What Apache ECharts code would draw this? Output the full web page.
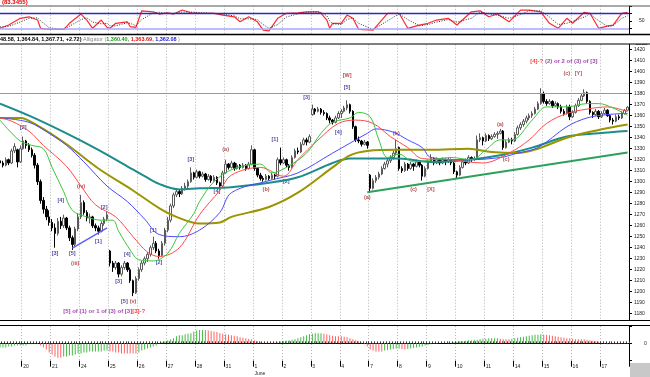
<!DOCTYPE html>
<html>
<head>
<meta charset="utf-8">
<title>Alligator</title>
<script src="https://cdn.jsdelivr.net/npm/echarts@6.0.0/dist/echarts.min.js"></script>
<style>
  html, body { margin: 0; padding: 0; background: #fff; }
  #main { width: 650px; height: 377px; }
</style>
</head>
<body>
<div id="main"></div>
<script>
// trading days on the axis, the first one is cut off at the left edge
var days = ['19', '20', '21', '24', '25', '26', '27', '28', '31', '1', '2', '3', '4', '7', '8', '9', '10', '11', '14', '15', '16', '17'];
var barsPerDay = [8, 10, 10, 10, 10, 10, 10, 10, 10, 10, 10, 10, 10, 10, 10, 10, 10, 10, 10, 10, 10, 10];

// bars: [open, high, low, close]
var ohlc = [
    // 19
    [1319,1321,1314,1317],[1317,1319,1313,1315],[1315,1322,1314,1320],[1320,1321,1315,1317],
    [1317,1330,1316,1328],[1328,1335,1326,1332],[1329,1330,1313,1318],[1318,1333,1317,1330],
    // 20
    [1330,1341,1329,1337],[1337,1338,1330,1333],[1333,1335,1327,1329],[1329,1331,1322,1324],[1324,1326,1312,1315],
    [1315,1317,1297,1300],[1300,1302,1280,1283],[1283,1286,1271,1275],[1275,1278,1265,1268],[1268,1274,1260,1263],
    // 21
    [1263,1266,1255,1258],[1258,1262,1240,1253],[1253,1267,1251,1264],[1264,1268,1257,1260],[1260,1270,1258,1267],
    [1267,1268,1256,1258],[1258,1260,1246,1249],[1249,1251,1238,1243],[1243,1259,1241,1257],[1257,1271,1255,1268],
    // 24
    [1268,1288,1266,1281],[1281,1283,1270,1272],[1272,1274,1264,1267],[1267,1271,1262,1268],[1268,1269,1258,1260],
    [1260,1262,1255,1258],[1258,1260,1252,1255],[1255,1264,1254,1262],[1262,1268,1260,1266],[1266,1273,1264,1270],
    // 25
    [1237,1238,1223,1226],[1226,1228,1218,1222],[1222,1228,1220,1226],[1226,1227,1213,1216],[1216,1224,1214,1222],
    [1222,1228,1220,1226],[1226,1227,1218,1220],[1220,1222,1208,1210],[1210,1211,1196,1199],[1199,1214,1198,1212],
    // 26
    [1212,1222,1210,1220],[1220,1228,1218,1226],[1226,1232,1224,1230],[1230,1236,1227,1234],[1234,1242,1232,1240],
    [1240,1250,1238,1244],[1244,1246,1235,1237],[1237,1239,1230,1233],[1233,1246,1232,1244],[1244,1258,1242,1256],
    // 27
    [1256,1268,1254,1265],[1265,1280,1263,1278],[1278,1290,1276,1288],[1288,1294,1286,1291],[1291,1293,1286,1289],
    [1289,1296,1288,1294],[1294,1299,1292,1296],[1296,1302,1294,1300],[1300,1313,1299,1308],[1308,1309,1302,1304],
    // 28
    [1304,1311,1303,1309],[1309,1310,1303,1305],[1305,1309,1304,1307],[1307,1308,1300,1302],[1302,1307,1301,1305],
    [1305,1306,1299,1301],[1301,1306,1300,1304],[1304,1305,1297,1299],[1299,1300,1294,1296],[1296,1310,1295,1308],
    // 31
    [1308,1320,1307,1316],[1316,1317,1311,1313],[1313,1319,1312,1317],[1317,1318,1310,1312],[1312,1317,1311,1315],
    [1315,1316,1311,1313],[1313,1317,1312,1315],[1315,1316,1310,1312],[1312,1318,1311,1316],[1316,1333,1315,1329],
    // 1 June
    [1329,1330,1310,1312],[1312,1313,1304,1306],[1306,1308,1301,1303],[1303,1305,1300,1302],[1302,1307,1301,1305],
    [1305,1306,1301,1303],[1303,1308,1302,1306],[1306,1307,1302,1305],[1305,1322,1304,1320],[1320,1331,1315,1317],
    // 2
    [1317,1322,1316,1320],[1320,1321,1313,1315],[1315,1316,1310,1313],[1313,1324,1312,1322],[1322,1330,1321,1328],
    [1328,1331,1325,1327],[1327,1336,1326,1334],[1334,1340,1333,1338],[1338,1340,1333,1336],[1336,1343,1335,1341],
    // 3
    [1361,1370,1360,1366],[1366,1367,1361,1364],[1364,1368,1363,1366],[1366,1367,1361,1363],[1363,1365,1360,1362],
    [1362,1363,1356,1358],[1358,1360,1353,1356],[1356,1357,1352,1354],[1354,1360,1353,1358],[1358,1364,1357,1362],
    // 4
    [1362,1366,1358,1364],[1364,1369,1363,1367],[1367,1374,1365,1370],[1370,1371,1362,1364],[1364,1365,1348,1350],
    [1350,1351,1336,1338],[1338,1341,1335,1337],[1337,1338,1332,1334],[1334,1338,1333,1336],[1336,1337,1330,1333],
    // 7
    [1306,1307,1291,1294],[1294,1303,1293,1301],[1301,1306,1299,1304],[1304,1309,1302,1307],[1307,1314,1306,1312],
    [1312,1318,1311,1316],[1316,1321,1313,1319],[1319,1324,1317,1322],[1322,1328,1320,1326],[1326,1338,1324,1330],
    // 8
    [1331,1332,1310,1312],[1312,1314,1308,1310],[1310,1318,1309,1316],[1316,1317,1310,1312],[1312,1318,1311,1316],
    [1316,1317,1310,1314],[1314,1320,1313,1318],[1318,1319,1313,1315],[1315,1316,1301,1305],[1305,1314,1304,1312],
    // 9
    [1312,1320,1311,1318],[1318,1325,1317,1321],[1321,1322,1315,1317],[1317,1322,1316,1320],[1320,1321,1315,1317],
    [1317,1322,1316,1320],[1320,1321,1315,1318],[1318,1322,1317,1320],[1320,1321,1315,1317],[1317,1318,1307,1309],
    // 10
    [1309,1310,1303,1306],[1306,1315,1305,1313],[1313,1320,1312,1318],[1318,1321,1315,1317],[1317,1324,1316,1322],
    [1322,1323,1318,1320],[1320,1323,1319,1321],[1321,1342,1320,1338],[1338,1344,1336,1340],[1340,1341,1333,1337],
    // 11
    [1337,1344,1336,1342],[1342,1343,1337,1339],[1339,1343,1338,1341],[1341,1345,1340,1343],[1343,1346,1339,1344],
    [1344,1348,1343,1346],[1346,1347,1329,1331],[1331,1338,1330,1336],[1336,1340,1335,1338],[1338,1340,1334,1337],
    // 14
    [1337,1345,1336,1343],[1343,1351,1342,1349],[1349,1354,1347,1352],[1352,1357,1350,1355],[1355,1360,1353,1358],
    [1358,1362,1356,1360],[1360,1364,1358,1362],[1362,1368,1361,1366],[1366,1373,1365,1371],[1371,1385,1370,1380],
    // 15
    [1380,1382,1371,1373],[1373,1375,1369,1371],[1371,1375,1370,1373],[1373,1374,1367,1369],[1369,1373,1368,1371],
    [1371,1372,1366,1368],[1368,1370,1362,1364],[1364,1366,1360,1362],[1362,1370,1361,1368],[1368,1370,1356,1359],
    // 16
    [1359,1365,1358,1363],[1363,1371,1362,1369],[1369,1376,1368,1374],[1374,1380,1373,1378],[1378,1384,1377,1381],
    [1381,1382,1371,1373],[1373,1374,1361,1363],[1363,1364,1358,1361],[1361,1366,1360,1364],[1364,1365,1357,1359],
    // 17
    [1359,1364,1358,1362],[1362,1367,1361,1365],[1365,1366,1359,1360],[1360,1361,1354,1356],[1356,1358,1352,1355],
    [1355,1361,1354,1359],[1359,1361,1356,1358],[1358,1364,1357,1362],[1362,1366,1361,1364.99],[1364.99,1368.58,1364.84,1367.71]
];

var lipsLine = [[0,1356],[3,1347],[7,1337],[11,1333],[15,1330],[18,1313],[22,1291],[25,1274],[30,1268],[35,1265],[39,1265],[41,1255],[45,1238],[48,1229],[53,1228],[58,1235],[62,1253],[67,1271],[69,1282],[74,1300],[81,1312],[90,1316],[94,1308],[99,1313],[106,1326],[111,1344],[115,1354],[121,1358],[124,1363],[128,1359],[131,1338],[134,1322],[138,1325],[143,1318],[156,1322],[163,1320],[168,1329],[173,1338],[177,1338],[184,1356],[189,1368],[196,1368],[203,1371],[207,1371],[212,1367],[217,1360.4]];
var teethLine = [[0,1358],[4,1355],[10,1346],[15,1333],[23,1314],[28,1296],[33,1279],[40,1268],[46,1250],[51,1236],[55,1232],[62,1240],[69,1270],[76,1292],[80,1306],[90,1313],[98,1305],[103,1320],[110,1338],[117,1353],[123,1356],[129,1353],[135,1341],[141,1331],[146,1321],[156,1320],[167,1317],[176,1326],[183,1338],[189,1353],[196,1362],[203,1366],[210,1368],[217,1363.7]];
var jawLine = [[0,1358],[10,1354],[17,1344],[23,1333],[29,1318],[37,1296],[44,1282],[50,1266],[55,1252],[62,1250],[69,1256],[76,1272],[80,1290],[93,1301],[103,1308],[115,1326],[121,1335],[127,1344],[130,1348],[136,1345],[141,1338],[146,1331],[149,1322],[162,1320],[173,1322],[179,1326],[186,1331],[196,1350],[203,1358],[210,1361],[217,1362.1]];
var oliveLine = [[0,1358],[7,1358],[13,1351],[23,1334],[34,1312],[46,1292],[55,1276],[61,1268],[69,1262],[76,1263],[80,1268],[93,1277],[103,1290],[115,1313],[121,1324],[127,1328],[138,1329],[149,1329],[162,1330],[170,1327],[179,1326],[186,1330],[196,1340],[207,1347],[217,1352]];
var tealLine = [[0,1371],[11,1359],[23,1344],[34,1329],[44,1314],[50,1305],[55,1298],[62,1293],[69,1294],[80,1295],[93,1299],[103,1304],[115,1317],[121,1321],[127,1321],[138,1321],[149,1318],[162,1320],[173,1324],[184,1331],[196,1341],[207,1344],[217,1346]];

var resistance = 1380;
var blueTrend = [[25, 1239.6], [37, 1258]];
var greenTrend = [[127, 1290.5], [217, 1326.5]];

// stochastic %K and %D as [bar, value]
var stochK = [[0,20],[3,33],[7,60],[10,66],[13,53],[14,20],[17,16],[22,16],[24,40],[28,77],[30,53],[32,20],[35,53],[37,24],[38,20],[40,40],[44,46],[45,27],[47,24],[49,90],[53,86],[55,77],[58,82],[60,77],[63,93],[66,82],[69,80],[74,80],[77,73],[81,66],[83,46],[86,66],[89,46],[91,13],[93,10],[96,60],[99,80],[103,82],[106,86],[110,86],[111,80],[113,53],[114,20],[115,40],[118,40],[120,73],[122,60],[124,16],[129,13],[134,80],[138,80],[141,20],[145,33],[148,40],[151,53],[155,60],[158,33],[163,86],[166,90],[169,66],[172,77],[176,46],[180,93],[183,93],[187,86],[190,40],[193,20],[196,60],[198,40],[202,84],[204,80],[207,20],[210,29],[212,33],[215,80],[217,83.35]];
var stochD = [[0,25],[3,28],[7,45],[10,60],[13,62],[14,50],[17,22],[22,16],[24,28],[28,55],[30,62],[32,45],[35,38],[37,40],[38,30],[40,30],[44,42],[45,40],[47,30],[49,55],[53,82],[55,84],[58,80],[60,80],[63,85],[66,85],[69,83],[74,80],[77,76],[81,70],[83,58],[86,58],[89,55],[91,35],[93,20],[96,35],[99,65],[103,78],[106,84],[110,86],[111,84],[113,70],[114,50],[115,38],[118,35],[120,55],[122,62],[124,40],[129,15],[134,50],[138,78],[141,55],[145,30],[148,35],[151,45],[155,55],[158,45],[163,60],[166,85],[169,78],[172,72],[176,60],[180,75],[183,90],[187,90],[190,65],[193,35],[196,40],[198,48],[202,65],[204,78],[207,50],[210,28],[212,30],[215,60],[217,70]];
var stochLevels = [80, 20];

// oscillator histogram, one value per bar
var aoValues = [
    -4,-4,-4,-3,-3,-2,-2,-2,
    -2,-2,-1,-1,-1,-1,-2,-4,-6,-9,
    -11,-13,-14,-14,-13,-13,-12,-12,-11,-10,
    -10,-9,-9,-8,-8,-8,-8,-8,-7,-7,
    -8,-8,-9,-9,-10,-10,-10,-10,-10,-10,
    -9,-7,-6,-5,-4,-3,-2,-0.5,1,2,
    3,4,5,7,8,8,9,9.5,10,11.5,
    12.5,13,13,13,12.5,12,11.5,11,10,9.5,
    9,8.5,8,7.5,7,6,5.5,5,4.5,4,
    3,2,1,0.5,0.5,0.5,0.5,0.5,1,1.5,
    2,2.5,3,3.5,4,5,6,7,8,9,
    9.5,10,10,10,9.5,9,8,7.5,7,7,
    7,6.5,6,5,4,3,2,0.5,-1,-3,
    -6,-7,-8,-8,-8,-7,-6.5,-6,-5.5,-5,
    -5,-5.5,-6,-5.5,-5,-4.5,-4,-3.5,-3,-2,
    -1.5,-1,-0.5,-0.5,0,0,0,0.5,0.5,1,
    1.5,2,2,2.5,3,3,3.5,3.5,4,4.5,
    4.5,5,5,5,5,4.5,4,4,4,4.5,
    5,5.5,6,6.5,7,7.5,8,8.5,8.5,9,
    8.5,8.5,8,7.5,7,6.5,6,5.5,5,5,
    4.5,4,4,4,4,3.5,3,2.5,2,1.5,
    0.5,-0.5,-1,-1,-1,-1,-1,-0.5,-0.5,-0.5
];

// wave labels [bar, price, text]
var waveNavy = [[8,1349,'[2]'],[19,1235,'[3]'],[21,1283,'[4]'],[25,1235,'[5]'],[34,1246,'[1]'],[36,1277,'[2]'],[41,1209,'[3]'],[44,1234,'[4]'],[43,1191,'[5]'],[53,1256,'[1]'],[55,1227,'[2]'],[66,1320,'[3]'],[75,1291,'[4]'],[95,1338,'[1]'],[99,1300,'[2]'],[106,1377,'[3]'],[117,1345,'[4]'],[120,1386,'[5]']];
var waveRed = [[26,1226,'(iii)'],[28,1296,'(iv)'],[46,1191,'(v)'],[78,1329,'(a)'],[92,1293,'(b)'],[120,1397,'[W]'],[127,1286,'(a)'],[137,1344,'(b)'],[143,1293,'(c)'],[149,1293,'[X]'],[173,1352,'(a)'],[175,1320,'(c)'],[196,1398,'(c)'],[200,1398,'[Y]']];
var notes = [
    [36, 1182, [['p', '[5] of (1) or 1 of (3) of [3]'], ['r', '[3]-?']]],
    [195, 1409, [['r', '[4]-? '], ['p', '(2) or 2 of (3) of [3]']]]
];

var cats = [];
days.forEach(function (d, di) {
    for (var k = 0; k < barsPerDay[di]; k++) {
        cats.push(d + '|' + k);
    }
});
function dayStart(i) {
    return i > 0 && cats[i].split('|')[1] === '0';
}
var FONT = 'Liberation Sans';

var candleData = ohlc.map(function (r) {
    return [r[0], r[3], r[2], r[1]];
});

var lastUp = true;
var aoData = aoValues.map(function (v, i) {
    if (i > 0 && v !== aoValues[i - 1]) lastUp = v > aoValues[i - 1];
    return {value: v, itemStyle: {color: lastUp ? '#44b844' : '#ff6060'}};
});

function maSeries(data, color, width) {
    return {
        type: 'line', xAxisIndex: 1, yAxisIndex: 1, data: data,
        smooth: 0.35, showSymbol: false, silent: true,
        lineStyle: {color: color, width: width}
    };
}

function waveSeries(list, color) {
    return {
        type: 'scatter', xAxisIndex: 1, yAxisIndex: 1, symbolSize: 1, silent: true,
        itemStyle: {color: 'rgba(0,0,0,0)'},
        label: {
            show: true, position: 'inside', formatter: '{b}', color: color,
            fontSize: 5.5, fontWeight: 'bold', fontFamily: FONT
        },
        data: list.map(function (a) {
            return {name: a[2], value: [a[0], a[1]]};
        })
    };
}

var noteRich = {
    p: {color: '#8a1a9a', fontSize: 6, fontWeight: 'bold', fontFamily: FONT},
    r: {color: '#f01010', fontSize: 6, fontWeight: 'bold', fontFamily: FONT}
};

function xAxisFor(grid) {
    return {
        type: 'category', gridIndex: grid, data: cats, boundaryGap: true,
        axisLine: {show: false}, axisTick: {show: false}, axisLabel: {show: false},
        splitLine: {show: true, interval: dayStart, lineStyle: {color: '#b4b4b4', type: [1, 2], width: 1}}
    };
}

// small buttons in the top right corner of each pane
function paneButtons(y) {
    return {
        type: 'group', x: 636, y: y, z: 60,
        children: [
            {type: 'rect', shape: {x: 0, y: 0, width: 5, height: 4}, style: {fill: '#e8e8e8', stroke: '#555', lineWidth: 0.7}},
            {type: 'rect', shape: {x: 1.5, y: 1.5, width: 2, height: 1.5}, style: {fill: 'none', stroke: '#333', lineWidth: 0.6}},
            {type: 'rect', shape: {x: 6, y: 0, width: 5, height: 4}, style: {fill: '#e8e8e8', stroke: '#555', lineWidth: 0.7}},
            {type: 'line', shape: {x1: 7.2, y1: 0.8, x2: 9.8, y2: 3.2}, style: {stroke: '#222', lineWidth: 0.8}},
            {type: 'line', shape: {x1: 9.8, y1: 0.8, x2: 7.2, y2: 3.2}, style: {stroke: '#222', lineWidth: 0.8}}
        ]
    };
}

var myChart = echarts.init(document.getElementById('main'), null, {renderer: 'canvas'});

var option = {
    animation: false,
    backgroundColor: '#ffffff',
    grid: [
        {left: -1.4, right: 21, top: 5.8, height: 30, containLabel: false, outerBoundsMode: 'none'},
        {left: -1.4, right: 21, top: 38.7, height: 286, containLabel: false, outerBoundsMode: 'none'},
        {left: -1.4, right: 21, top: 326, height: 34.7, containLabel: false, outerBoundsMode: 'none'}
    ],
    xAxis: [
        xAxisFor(0),
        xAxisFor(1),
        (function () {
            var ax = xAxisFor(2);
            ax.axisLine = {show: true, lineStyle: {color: '#000', width: 1}};
            ax.axisTick = {show: true, inside: true, length: 2, interval: 0, lineStyle: {color: '#444'}};
            return ax;
        })(),
        {
            type: 'category', gridIndex: 2, data: cats, boundaryGap: true, position: 'bottom',
            axisLine: {show: false},
            axisTick: {show: true, interval: dayStart, length: 6, lineStyle: {color: '#000'}},
            axisLabel: {
                show: true, interval: dayStart, align: 'left', margin: 2,
                fontSize: 5, color: '#222', fontFamily: FONT, lineHeight: 7,
                formatter: function (v) {
                    var d = v.split('|')[0];
                    return d === '1' ? d + '\nJune' : d;
                }
            },
            splitLine: {show: false}
        }
    ],
    yAxis: [
        {
            type: 'value', gridIndex: 0, position: 'right', min: -10, max: 110, interval: 30,
            axisLine: {show: true, lineStyle: {color: '#000'}},
            axisTick: {show: true, length: 3, lineStyle: {color: '#000'}},
            axisLabel: {
                fontSize: 5, color: '#222', fontFamily: FONT, margin: 10,
                formatter: function (v) { return v === 50 ? '50' : ''; }
            },
            splitLine: {show: false}
        },
        {
            type: 'value', gridIndex: 1, position: 'right', min: 1170, max: 1430, interval: 10,
            axisLine: {show: true, lineStyle: {color: '#000'}},
            axisTick: {show: true, length: 3, lineStyle: {color: '#000'}},
            axisLabel: {
                fontSize: 5, color: '#222', fontFamily: FONT, margin: 5,
                formatter: function (v) { return (v < 1180 || v > 1420) ? '' : String(v); }
            },
            splitLine: {show: false}
        },
        {
            type: 'value', gridIndex: 2, position: 'right', min: -17, max: 17, interval: 17,
            axisLine: {show: true, lineStyle: {color: '#000'}},
            axisTick: {show: true, length: 3, lineStyle: {color: '#000'}},
            axisLabel: {
                fontSize: 5, color: '#222', fontFamily: FONT, margin: 15,
                formatter: function (v) { return v === 0 ? '0' : ''; }
            },
            splitLine: {show: false}
        }
    ],
    series: [
        {
            name: '%K', type: 'line', xAxisIndex: 0, yAxisIndex: 0, data: stochK,
            showSymbol: false, silent: true, lineStyle: {color: '#ff2a2a', width: 1.2},
            markLine: {
                silent: true, symbol: ['none', 'none'], label: {show: false},
                data: [
                    {yAxis: stochLevels[0], lineStyle: {color: '#2828c8', width: 1.3, type: 'solid'}},
                    {yAxis: stochLevels[1], lineStyle: {color: '#a6a6ff', width: 1.5, type: 'solid'}}
                ]
            }
        },
        {
            name: '%D', type: 'line', xAxisIndex: 0, yAxisIndex: 0, data: stochD,
            showSymbol: false, silent: true, lineStyle: {color: '#333', width: 1, type: [1, 1.5]}
        },
        {
            name: 'price', type: 'candlestick', xAxisIndex: 1, yAxisIndex: 1, data: candleData,
            barWidth: 2, silent: true,
            itemStyle: {color: '#ffffff', color0: '#000000', borderColor: '#5a5a5a', borderColor0: '#000000', borderWidth: 1},
            markLine: {
                silent: true, symbol: ['none', 'none'], label: {show: false}, animation: false,
                data: [
                    {yAxis: resistance, lineStyle: {color: '#8c8cff', width: 1, type: 'solid'}},
                    [{coord: blueTrend[0], lineStyle: {color: '#5a5aff', width: 1.3, type: 'solid'}}, {coord: blueTrend[1]}],
                    [{coord: greenTrend[0], lineStyle: {color: '#2ea05c', width: 2, type: 'solid'}}, {coord: greenTrend[1]}]
                ]
            }
        },
        maSeries(tealLine, '#1c8c8c', 2),
        maSeries(oliveLine, '#9c9400', 2),
        maSeries(jawLine, '#4a4aff', 1),
        maSeries(teethLine, '#ff4a4a', 1),
        maSeries(lipsLine, '#3cc43c', 1),
        waveSeries(waveNavy, '#1a1a8c'),
        waveSeries(waveRed, '#9a1a1a'),
        {
            type: 'scatter', xAxisIndex: 1, yAxisIndex: 1, symbolSize: 1, silent: true,
            itemStyle: {color: 'rgba(0,0,0,0)'},
            label: {show: true, position: 'inside', formatter: '{b}', rich: noteRich, fontSize: 6, fontFamily: FONT},
            data: notes.map(function (n) {
                var txt = n[2].map(function (part) { return '{' + part[0] + '|' + part[1] + '}'; }).join('');
                return {name: txt, value: [n[0], n[1]]};
            })
        },
        {
            name: 'AO', type: 'bar', xAxisIndex: 2, yAxisIndex: 2, data: aoData,
            barWidth: 1, silent: true
        }
    ],
    graphic: [
        {type: 'rect', shape: {x: 0, y: 34.5, width: 650, height: 9.5}, style: {fill: '#fff'}, z: 50},
        {type: 'rect', shape: {x: 0, y: 320.5, width: 650, height: 5}, style: {fill: '#fff'}, z: 50},
        {type: 'rect', shape: {x: 0, y: 0, width: 650, height: 5.5}, style: {fill: '#fff'}, z: 50},
        {type: 'line', shape: {x1: 0, y1: 6, x2: 650, y2: 6}, style: {stroke: '#555', lineWidth: 1}, z: 51},
        {type: 'line', shape: {x1: 0, y1: 34.5, x2: 650, y2: 34.5}, style: {stroke: '#000', lineWidth: 1.5}, z: 51},
        {type: 'line', shape: {x1: 0, y1: 44, x2: 650, y2: 44}, style: {stroke: '#000', lineWidth: 1}, z: 51},
        {type: 'line', shape: {x1: 0, y1: 320.5, x2: 650, y2: 320.5}, style: {stroke: '#000', lineWidth: 1}, z: 51},
        {type: 'line', shape: {x1: 0, y1: 325.5, x2: 650, y2: 325.5}, style: {stroke: '#000', lineWidth: 1}, z: 51},
        {type: 'rect', shape: {x: 630, y: 363, width: 20, height: 14}, style: {fill: '#c8c8c8'}, z: 51},
        paneButtons(-0.5),
        paneButtons(40.5),
        paneButtons(320.8),
        {
            type: 'text', x: 2, y: -1, z: 52,
            style: {text: '(83.3455)', fill: '#e00000', fontSize: 6, fontWeight: 'bold', fontFamily: FONT}
        },
        {
            type: 'text', x: 0, y: 36, z: 52,
            style: {
                text: '{k|48.58, 1,364.84, 1,367.71, +2.72)} {g|Alligator (}{gr|1,360.40, }{rd|1,363.69, }{bl|1,362.08}{g| )}',
                fontSize: 5.5, fontFamily: FONT,
                rich: {
                    k: {fill: '#000', fontSize: 5.5, fontWeight: 'bold', fontFamily: FONT},
                    g: {fill: '#888', fontSize: 5.5, fontFamily: FONT},
                    gr: {fill: '#1a9a1a', fontSize: 5.5, fontWeight: 'bold', fontFamily: FONT},
                    rd: {fill: '#e01010', fontSize: 5.5, fontWeight: 'bold', fontFamily: FONT},
                    bl: {fill: '#1a1ae0', fontSize: 5.5, fontWeight: 'bold', fontFamily: FONT}
                }
            }
        }
    ]
};

myChart.setOption(option);
</script>
</body>
</html>
